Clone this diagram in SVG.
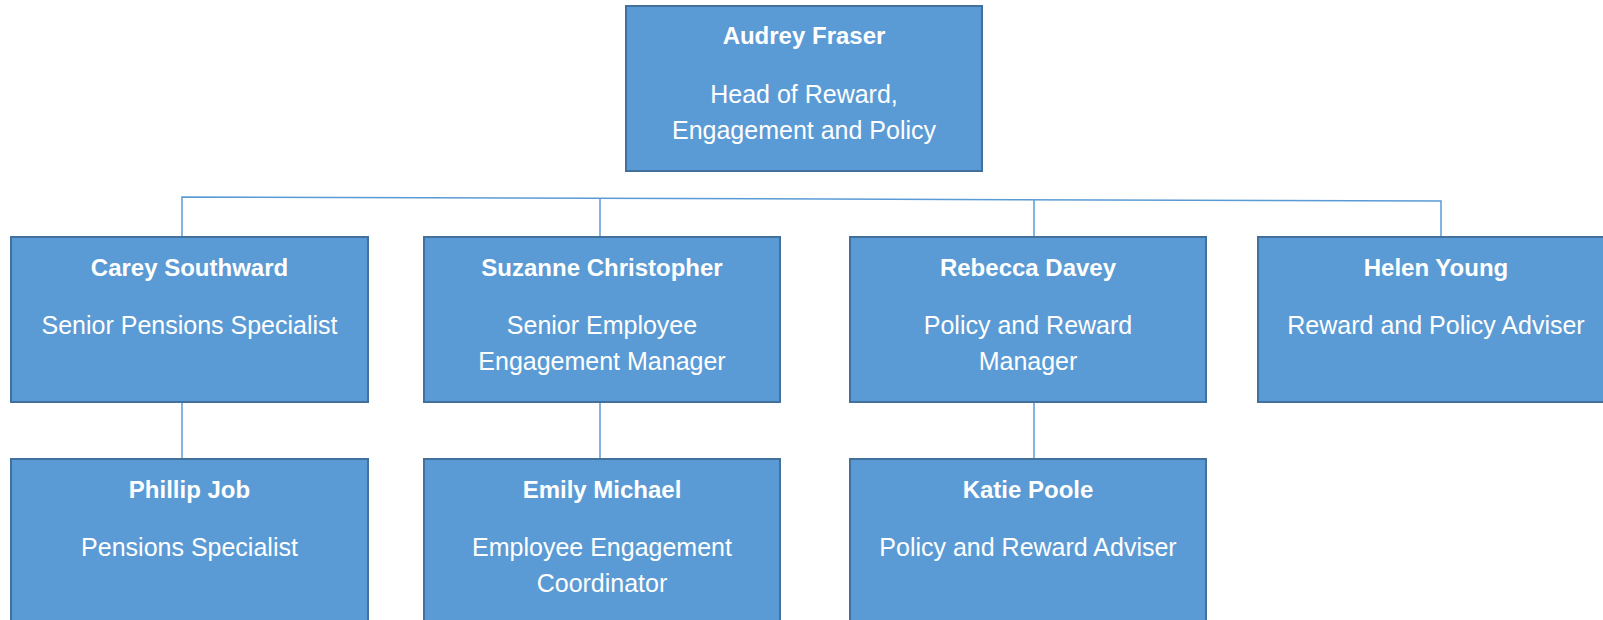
<svg xmlns="http://www.w3.org/2000/svg" width="1603" height="620" viewBox="0 0 1603 620">
<style>
.box{fill:#5B9BD5;stroke:#41719C;stroke-width:2}
.n{font-family:"Liberation Sans",Arial,sans-serif;font-size:24px;font-weight:bold;fill:#fff;text-anchor:middle}
.t{font-family:"Liberation Sans",Arial,sans-serif;font-size:25px;fill:#fff;text-anchor:middle}
.c{fill:none;stroke:#5B9BD5;stroke-width:1.5}
</style>
<rect width="1603" height="620" fill="#fff"/>
<g id="connectors">
<path class="c" d="M182,237 V197 L1441,201 V237"/>
<path class="c" d="M600,198.3 V237"/>
<path class="c" d="M1034,199.7 V237"/>
<path class="c" d="M182,402 V459"/>
<path class="c" d="M600,402 V459"/>
<path class="c" d="M1034,402 V459"/>
</g>
<g id="audrey">
<rect class="box" x="626" y="6" width="356" height="165"/>
<text class="n" x="804" y="44">Audrey Fraser</text>
<text class="t" x="804" y="103">Head of Reward,</text>
<text class="t" x="804" y="139">Engagement and Policy</text>
</g>
<g id="carey">
<rect class="box" x="11" y="237" width="357" height="165"/>
<text class="n" x="189.5" y="276">Carey Southward</text>
<text class="t" x="189.5" y="334">Senior Pensions Specialist</text>
</g>
<g id="suzanne">
<rect class="box" x="424" y="237" width="356" height="165"/>
<text class="n" x="602" y="276">Suzanne Christopher</text>
<text class="t" x="602" y="334">Senior Employee</text>
<text class="t" x="602" y="370">Engagement Manager</text>
</g>
<g id="rebecca">
<rect class="box" x="850" y="237" width="356" height="165"/>
<text class="n" x="1028" y="276">Rebecca Davey</text>
<text class="t" x="1028" y="334">Policy and Reward</text>
<text class="t" x="1028" y="370">Manager</text>
</g>
<g id="helen">
<rect class="box" x="1258" y="237" width="356" height="165"/>
<text class="n" x="1436" y="276">Helen Young</text>
<text class="t" x="1436" y="334">Reward and Policy Adviser</text>
</g>
<g id="phillip">
<rect class="box" x="11" y="459" width="357" height="175"/>
<text class="n" x="189.5" y="498">Phillip Job</text>
<text class="t" x="189.5" y="556">Pensions Specialist</text>
</g>
<g id="emily">
<rect class="box" x="424" y="459" width="356" height="175"/>
<text class="n" x="602" y="498">Emily Michael</text>
<text class="t" x="602" y="556">Employee Engagement</text>
<text class="t" x="602" y="592">Coordinator</text>
</g>
<g id="katie">
<rect class="box" x="850" y="459" width="356" height="175"/>
<text class="n" x="1028" y="498">Katie Poole</text>
<text class="t" x="1028" y="556">Policy and Reward Adviser</text>
</g>
</svg>
